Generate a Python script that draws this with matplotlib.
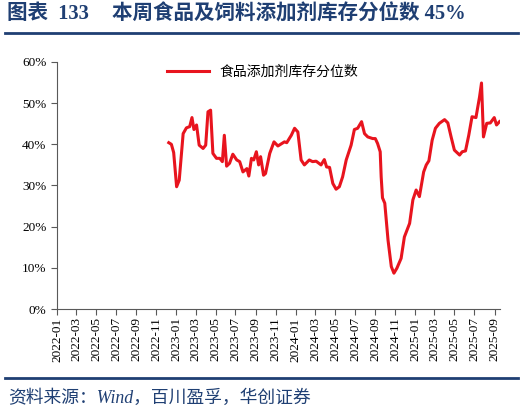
import numpy as np
import pandas as pd
import matplotlib
matplotlib.use("Agg")
import matplotlib.pyplot as plt
import matplotlib.dates as mdates
from matplotlib.ticker import FuncFormatter

plt.rcParams['font.family'] = ['Liberation Serif', 'Noto Sans CJK SC', 'DejaVu Sans']

# weekly inventory percentile
dates = [
    "2022-12-09", "2022-12-17", "2022-12-24", "2023-01-02", "2023-01-10", "2023-01-22",
    "2023-02-01", "2023-02-11", "2023-02-18", "2023-02-24", "2023-03-04", "2023-03-12",
    "2023-03-24", "2023-04-01", "2023-04-08", "2023-04-16", "2023-04-23", "2023-05-04",
    "2023-05-14", "2023-05-22", "2023-05-28", "2023-06-04", "2023-06-13", "2023-06-23",
    "2023-07-05", "2023-07-14", "2023-07-24", "2023-08-05", "2023-08-11", "2023-08-19",
    "2023-08-26", "2023-09-03", "2023-09-10", "2023-09-16", "2023-09-25", "2023-10-01",
    "2023-10-14", "2023-10-27", "2023-11-08", "2023-11-28", "2023-12-05", "2023-12-19",
    "2023-12-29", "2024-01-08", "2024-01-18", "2024-01-28", "2024-02-12", "2024-02-22",
    "2024-03-04", "2024-03-19", "2024-03-29", "2024-04-05", "2024-04-14", "2024-04-24",
    "2024-05-04", "2024-05-14", "2024-05-24", "2024-06-04", "2024-06-19", "2024-06-29",
    "2024-07-09", "2024-07-21", "2024-07-30", "2024-08-09", "2024-08-24", "2024-09-01",
    "2024-09-08", "2024-09-16", "2024-09-19", "2024-09-23", "2024-09-30", "2024-10-10",
    "2024-10-20", "2024-10-28", "2024-11-06", "2024-11-19", "2024-11-29", "2024-12-15",
    "2024-12-25", "2025-01-04", "2025-01-14", "2025-01-27", "2025-02-04", "2025-02-12",
    "2025-02-22", "2025-03-04", "2025-03-16", "2025-04-01", "2025-04-11", "2025-04-21",
    "2025-05-01", "2025-05-17", "2025-05-25", "2025-06-04", "2025-06-14", "2025-06-24",
    "2025-07-06", "2025-07-17", "2025-07-23", "2025-07-29", "2025-08-08", "2025-08-19",
    "2025-08-31", "2025-09-07", "2025-09-16",
]
values = [
    40.4, 40.0, 38.0, 29.7, 31.3, 42.6,
    44.0, 44.3, 46.5, 43.6, 44.7, 39.8,
    39.0, 39.8, 47.9, 48.3, 37.8, 36.6,
    36.6, 35.8, 42.2, 34.7, 35.4, 37.6,
    36.2, 35.8, 33.3, 34.1, 32.3, 36.6,
    36.2, 38.2, 35.0, 37.0, 32.5, 32.9,
    37.8, 40.6, 39.6, 40.6, 40.4, 42.2,
    43.9, 43.0, 36.2, 35.0, 36.2, 35.8,
    35.9, 35.0, 36.3, 34.5, 34.4, 30.5,
    29.1, 29.7, 32.1, 36.2, 39.8, 43.6,
    43.9, 45.5, 42.6, 41.8, 41.4, 41.4,
    40.2, 38.2, 32.1, 27.0, 25.7, 16.7,
    10.3, 8.7, 9.9, 12.3, 17.5, 20.8,
    26.5, 28.9, 27.3, 33.3, 35.0, 36.0,
    41.0, 43.9, 45.1, 46.0, 45.2, 41.8,
    38.6, 37.4, 38.2, 38.4, 42.2, 46.7,
    46.5, 51.5, 54.9, 41.8, 45.1, 45.2,
    46.5, 44.7, 45.5,
]
series_name = "食品添加剂库存分位数"
title_num = "图表  133"
title_text = "本周食品及饲料添加剂库存分位数 45%"
source = "资料来源：Wind，百川盈孚，华创证券"

navy = "#1F3F73"
red = "#E8141E"

fig = plt.figure(figsize=(5.25, 4.13), dpi=100)
ax = fig.add_axes([0.1086, 0.2518, 0.8434, 0.5981])

x = pd.to_datetime(dates)
ax.plot(x, values, color=red, linewidth=2.2, label=series_name)

ax.set_xlim(pd.Timestamp("2022-01-01"), pd.Timestamp("2025-09-17"))
ax.set_ylim(0, 60)
ax.set_yticks(np.arange(0, 61, 10))
ax.yaxis.set_major_formatter(FuncFormatter(lambda v, p: f"{v:.0f}%"))
ax.xaxis.set_major_locator(mdates.MonthLocator(bymonth=[1, 3, 5, 7, 9, 11]))
ax.xaxis.set_major_formatter(mdates.DateFormatter("%Y-%m"))

for s in ["top", "right"]:
    ax.spines[s].set_visible(False)
for s in ["left", "bottom"]:
    ax.spines[s].set_color("#595959")
    ax.spines[s].set_linewidth(0.8)
ax.tick_params(axis="both", direction="out", length=4, width=0.8, color="#595959",
               labelsize=9.5, labelcolor="black")
ax.tick_params(axis="x", labelrotation=90, pad=2)

ax.legend(loc="upper center", bbox_to_anchor=(0.465, 1.04), frameon=False,
          handlelength=3.0, prop={'family': ['Noto Sans CJK SC'], 'size': 10})

fig.text(7 / 525, 0.966, title_num, fontsize=14.8, fontweight="bold", color=navy,
         va="center", ha="left")
fig.text(112 / 525, 0.966, title_text, fontsize=14.8, fontweight="bold", color=navy,
         va="center", ha="left")
fig.add_artist(plt.Line2D([0.01, 0.987], [0.921, 0.921], color=navy, linewidth=2.0))
fig.add_artist(plt.Line2D([0.01, 0.987], [0.085, 0.085], color=navy, linewidth=2.0))
fig.text(0.015, 0.036, source, fontsize=12.8, color=navy, style="italic",
         va="center", ha="left")

fig.savefig("out.png", dpi=100)
